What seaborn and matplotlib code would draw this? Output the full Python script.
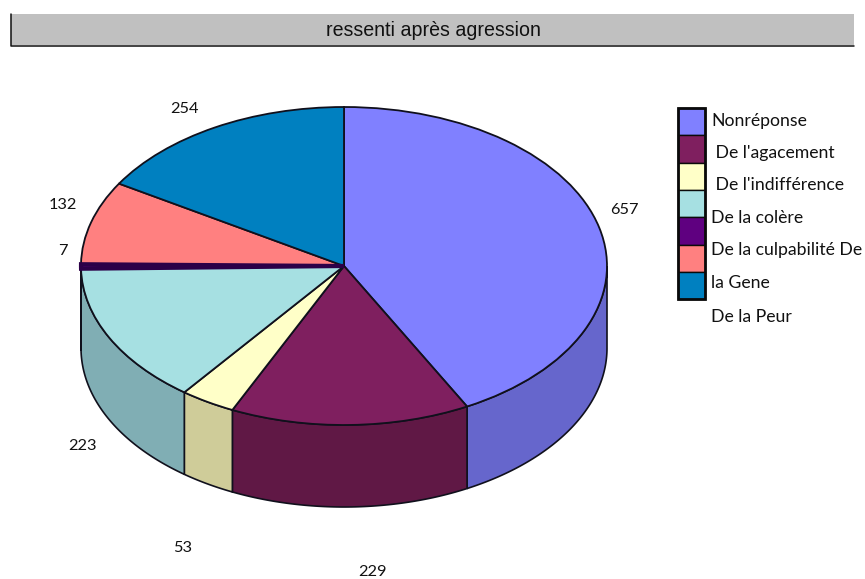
import numpy as np
import matplotlib
matplotlib.use("Agg")
import matplotlib.pyplot as plt
from matplotlib.patches import Polygon, Rectangle
from matplotlib.transforms import Affine2D
import seaborn as sns

title = "ressenti après agression"
values = [657, 229, 53, 223, 7, 132, 254]
legend_lines = ["Nonréponse", " De l'agacement", " De l'indifférence", "De la colère",
                "De la culpabilité De", "la Gene", "De la Peur"]
top_colors = ["#8080FF", "#7F1F5F", "#FFFFC8", "#A6E0E2", "#5F0080", "#FF8080", "#0080C0"]
side_colors = ["#6666CC", "#601845", "#CFCC99", "#80AEB4", "#30004A", "#CC6666", "#006699"]

W, H = 865, 579
CX, CY, RX, RY, DEPTH = 344, 266, 263, 159, 82
LINE = "#10101C"

sns.set_theme(style="white")
fig = plt.figure(figsize=(W / 100, H / 100), dpi=100, facecolor="white")
ax = fig.add_axes([0, 0, 1, 1])
palette = sns.color_palette(top_colors)

# top face: a unit pie stretched into an ellipse by the axis limits
wedges, _ = ax.pie(values, colors=palette, startangle=90, counterclock=False, radius=1,
                   wedgeprops=dict(edgecolor=LINE, linewidth=1.3, zorder=3))
ax.set_aspect("auto")
ax.set_xlim(-CX / RX, (W - CX) / RX)
ax.set_ylim((CY - H) / RY, CY / RY)
ax.axis("off")

# the thin culpability slice reads as a heavy dark band
wedges[4].set(edgecolor="#2C0048", linewidth=3.0, zorder=4)

# side wall: each wedge's visible lower arc, extruded downwards
drop = DEPTH / RY
edges = 90 - np.cumsum([0] + values) / sum(values) * 360
for start, stop, colour in zip(edges[:-1], edges[1:], side_colors):
    a0, a1 = max(stop, -180), min(start, 0)
    if a1 <= a0:
        continue
    t = np.radians(np.linspace(a0, a1, 80))
    x, y = np.cos(t), np.sin(t)
    pts = np.r_[np.c_[x, y], np.c_[x[::-1], y[::-1] - drop]]
    ax.add_patch(Polygon(pts, closed=True, facecolor=colour, edgecolor=LINE,
                         linewidth=1.2, zorder=2))

# everything else is placed in pixels measured from the top left
px = Affine2D().scale(1 / W, -1 / H).translate(0, 1) + fig.transFigure

# title band
ax.add_patch(Rectangle((11, 14), 843, 31, transform=px, facecolor="#C0C0C0",
                       edgecolor="none", zorder=1, clip_on=False))
ax.plot([11, 11, 854], [14, 45.5, 45.5], transform=px, color="#101010", lw=1.1, zorder=2)
ax.text(433.5, 30, title, transform=px, family="Liberation Sans", fontsize=14.1,
        color="#111111", ha="center", va="center")

# legend swatches and their text
swatch_top, swatch_h = 108, 27.3
for i, colour in enumerate(palette):
    ax.add_patch(Rectangle((678, swatch_top + i * swatch_h), 27, swatch_h, transform=px,
                           facecolor=colour, edgecolor="#0A0A0A", linewidth=1.0, zorder=2))
ax.add_patch(Rectangle((678, swatch_top), 27, swatch_h * len(palette), transform=px,
                       facecolor="none", edgecolor="#0A0A0A", linewidth=2.0, zorder=3))
legend_y = [121, 153, 185, 218, 250, 283, 317]
for line, y in zip(legend_lines, legend_y):
    ax.text(711, y, line, transform=px, family="Lato", fontsize=12.7, color="#111111",
            ha="left", va="center")

# value labels around the pie
label_xy = [(624, 210), (372, 572), (183, 548), (82, 446), (63, 251), (63, 205), (184, 109)]
for value, (x, y) in zip(values, label_xy):
    ax.text(x, y, str(value), transform=px, family="Lato", fontsize=11.8, color="#111111",
            ha="center", va="center")

fig.savefig("out.png", dpi=100)
